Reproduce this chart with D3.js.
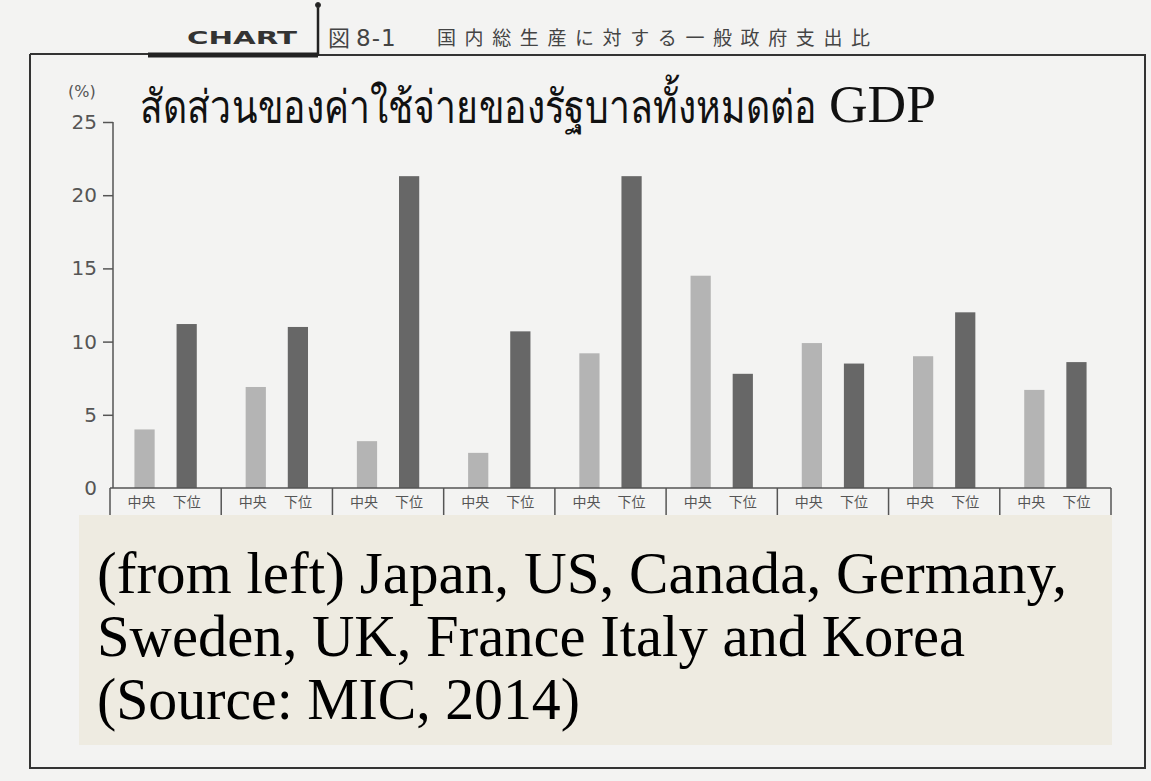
<!DOCTYPE html>
<html>
<head>
<meta charset="utf-8">
<script src="https://cdn.jsdelivr.net/npm/d3@7"></script>
<style>
  html, body { margin: 0; padding: 0; background: #f3f3f2; }
  svg { display: block; }
</style>
</head>
<body>
<div id="root"></div>
<script>
const WIDTH = 1151;
const HEIGHT = 781;

// Japan, US, Canada, Germany, Sweden, UK, France, Italy, Korea
const countries = ['Japan', 'US', 'Canada', 'Germany', 'Sweden', 'UK', 'France', 'Italy', 'Korea'];
const levels = ['中央', '下位'];
const central = [4.0, 6.9, 3.2, 2.4, 9.2, 14.5, 9.9, 9.0, 6.7];
const local = [11.2, 11.0, 21.3, 10.7, 21.3, 7.8, 8.5, 12.0, 8.6];
const yTicks = [0, 5, 10, 15, 20, 25];

const headerTag = 'CHART';
const headerNo = ['図', '8-1'];
const headerTitle = '国内総生産に対する一般政府支出比';
const thaiTitle = 'สัดส่วนของค่าใช้จ่ายของรัฐบาลทั้งหมดต่อ';
const noteLines = [
  '(from left) Japan, US, Canada, Germany,',
  'Sweden, UK, France Italy and Korea',
  '(Source: MIC, 2014)',
];
const noteWidths = [970, 868, 483];

const data = countries.map((c, i) => ({ country: c, values: [central[i], local[i]] }));

const svg = d3.select('#root').append('svg')
  .attr('width', WIDTH)
  .attr('height', HEIGHT);

svg.append('rect').attr('width', WIDTH).attr('height', HEIGHT).attr('fill', '#f3f3f2');

// frame around the figure
const frame = svg.append('g').attr('fill', 'none').attr('stroke', '#333');
frame.append('path')
  .attr('d', 'M30,54 H318 M318,55 H1145 V768 H30 V54')
  .attr('stroke-width', 2);
frame.append('line')
  .attr('x1', 148).attr('x2', 318).attr('y1', 55).attr('y2', 55)
  .attr('stroke-width', 5).attr('stroke', '#222');
frame.append('line')
  .attr('x1', 318).attr('x2', 318).attr('y1', 5).attr('y2', 56)
  .attr('stroke-width', 2.5).attr('stroke', '#222');
frame.append('circle').attr('cx', 318).attr('cy', 5).attr('r', 2.5).attr('fill', '#222');

svg.append('text')
  .attr('x', 187).attr('y', 44)
  .attr('font-family', '"DejaVu Sans"')
  .attr('font-weight', 'bold')
  .attr('font-size', 17)
  .attr('textLength', 110)
  .attr('lengthAdjust', 'spacingAndGlyphs')
  .attr('fill', '#333')
  .text(headerTag);

const header = svg.append('g')
  .attr('font-family', '"Noto Sans CJK JP"')
  .attr('fill', '#444');
header.append('text').attr('x', 328).attr('y', 46).attr('font-size', 22).text(headerNo[0]);
header.append('text').attr('x', 356).attr('y', 46).attr('font-size', 23)
  .attr('font-family', '"DejaVu Sans"').attr('letter-spacing', 1).text(headerNo[1]);
header.append('text').attr('x', 437).attr('y', 45).attr('font-size', 19)
  .attr('textLength', 433).attr('lengthAdjust', 'spacing').text(headerTitle);

const x = d3.scaleBand().domain(countries).range([110, 1111]);
const x1 = d3.scaleBand().domain(levels).range([0, x.bandwidth()])
  .paddingInner(0.52).paddingOuter(0.58);
const y = d3.scaleLinear().domain([0, 25]).range([488, 122]);

const colors = d3.scaleOrdinal().domain(levels).range(['#b4b4b4', '#676767']);

// y axis
const yAxis = svg.append('g')
  .attr('transform', `translate(${x.range()[0] + 3},0)`)
  .call(d3.axisLeft(y).tickValues(yTicks).tickSize(10).tickPadding(6));
yAxis.select('.domain').remove();
yAxis.selectAll('.tick line').attr('stroke', '#555').attr('stroke-width', 1.5)
  .filter(d => d === 0).remove();
yAxis.selectAll('.tick text')
  .attr('font-family', '"DejaVu Sans"')
  .attr('font-size', 20)
  .attr('fill', '#555');
yAxis.append('line')
  .attr('y1', y(25)).attr('y2', y(0))
  .attr('stroke', '#555').attr('stroke-width', 1.5);
yAxis.append('text')
  .attr('x', -45).attr('y', y(25) - 25)
  .attr('font-family', '"DejaVu Sans"')
  .attr('font-size', 16)
  .attr('fill', '#555')
  .attr('text-anchor', 'start')
  .text('(%)');

// bars
const groups = svg.append('g').selectAll('g')
  .data(data)
  .join('g')
  .attr('transform', d => `translate(${x(d.country)},0)`);

groups.selectAll('rect')
  .data(d => d.values.map((v, i) => ({ level: levels[i], value: v })))
  .join('rect')
  .attr('x', d => x1(d.level))
  .attr('width', x1.bandwidth())
  .attr('y', d => y(d.value))
  .attr('height', d => y(0) - y(d.value))
  .attr('fill', d => colors(d.level));

// category label row under the bars
const row = svg.append('g').attr('stroke', '#555').attr('stroke-width', 1.5);
row.append('line')
  .attr('x1', x.range()[0]).attr('x2', x.range()[1])
  .attr('y1', y(0)).attr('y2', y(0));
row.selectAll('line.div')
  .data(countries.concat(['end']))
  .join('line')
  .attr('class', 'div')
  .attr('x1', (d, i) => x.range()[0] + i * x.step())
  .attr('x2', (d, i) => x.range()[0] + i * x.step())
  .attr('y1', y(0)).attr('y2', y(0) + 32);

groups.selectAll('text')
  .data(levels)
  .join('text')
  .attr('x', (d, i) => x1(d) + x1.bandwidth() / 2 + (i ? 0 : -3))
  .attr('y', y(0) + 19)
  .attr('text-anchor', 'middle')
  .attr('font-family', '"Noto Sans CJK JP"')
  .attr('font-size', 14)
  .attr('fill', '#555')
  .text(d => d);

// Thai overlay title, squeezed horizontally like the narrow Thai face in the original
const thai = svg.append('text')
  .attr('font-family', '"Noto Sans", "DejaVu Sans", sans-serif')
  .attr('font-size', 46)
  .attr('fill', '#111')
  .text(thaiTitle);
const thaiScale = 672 / thai.node().getComputedTextLength();
thai.attr('transform', `translate(140,123) scale(${thaiScale},1)`);

svg.append('text')
  .attr('x', 829).attr('y', 122)
  .attr('font-family', '"Liberation Serif", "Times New Roman", serif')
  .attr('font-size', 52)
  .attr('textLength', 107)
  .attr('lengthAdjust', 'spacingAndGlyphs')
  .attr('fill', '#111')
  .text('GDP');

// English note box
svg.append('rect')
  .attr('x', 79).attr('y', 515)
  .attr('width', 1033).attr('height', 230)
  .attr('fill', '#eeebe1');

svg.append('g').selectAll('text')
  .data(noteLines)
  .join('text')
  .attr('x', 97)
  .attr('y', (d, i) => 593 + i * 63)
  .attr('font-family', '"Liberation Serif", "Times New Roman", serif')
  .attr('font-size', 59)
  .attr('textLength', (d, i) => noteWidths[i])
  .attr('lengthAdjust', 'spacingAndGlyphs')
  .attr('fill', '#000')
  .text(d => d);
</script>
</body>
</html>
